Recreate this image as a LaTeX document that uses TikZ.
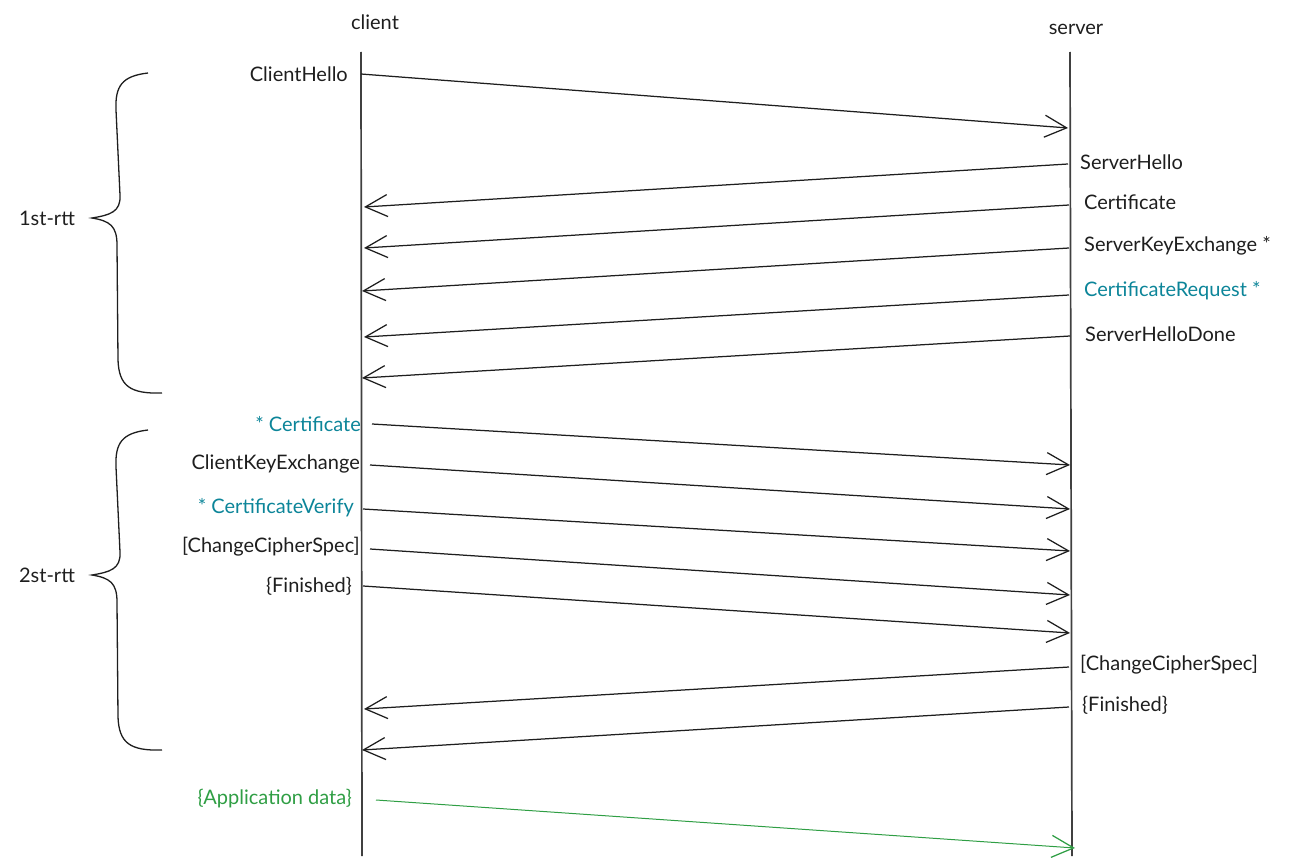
\documentclass[tikz,border=0pt]{standalone}
\usepackage{fontspec}
\setmainfont{Lato}
\usetikzlibrary{arrows.meta}
\definecolor{tealc}{HTML}{0C8599}
\definecolor{greenc}{HTML}{2F9E44}
\definecolor{inkc}{HTML}{1E1E1E}
\tikzset{
  lbl/.style={font=\fontsize{20}{24}\selectfont, text=inkc, inner sep=0pt},
  lblL/.style={lbl, anchor=east},
  lblR/.style={lbl, anchor=west},
  life/.style={draw=inkc!85, line width=1.7pt},
  msg/.style={draw=inkc, line width=1.25pt, -{Straight Barb[length=22pt,width=22pt,line width=1.25pt]}},
  brc/.style={draw=inkc, line width=1.3pt},
}
\begin{document}
\begin{tikzpicture}[x=1pt,y=-1pt]
\useasboundingbox (0,0) rectangle (1312,867);
% lifelines
\coordinate (ct) at (361,52); \coordinate (cb) at (362,856);
\coordinate (st) at (1070,52); \coordinate (sb) at (1072,856);
\draw[life] (ct) -- (cb);
\draw[life] (st) -- (sb);
\node[lbl] (client) at (375,22) {client};
\node[lbl] (server) at (1076,29) {server};

% labels
\node[lblL] (chello) at (348,74) {ClientHello};
\node[lblR] (shello) at (1080,162) {ServerHello};
\node[lblR] (scert) at (1084,202) {Certificate};
\node[lblR] (skx) at (1084,246) {ServerKeyExchange *};
\node[lblR, text=tealc] (creq) at (1084,291) {CertificateRequest *};
\node[lblR] (shd) at (1085,334) {ServerHelloDone};
\node[lblL, text=tealc] (ccert) at (361,424) {* Certificate};
\node[lblL] (ckx) at (360,464) {ClientKeyExchange};
\node[lblL, text=tealc] (cver) at (354,508) {* CertificateVerify};
\node[lblL] (cccs) at (360,547) {[ChangeCipherSpec]};
\node[lblL] (cfin) at (352,586) {\{Finished\}};
\node[lblR] (sccs) at (1080,665) {[ChangeCipherSpec]};
\node[lblR] (sfin) at (1082,705) {\{Finished\}};
\node[lblL, text=greenc] (app) at (352,799) {\{Application data\}};
\node[lbl] (rtt1) at (47,218) {1st-rtt};
\node[lbl] (rtt2) at (47,575) {2st-rtt};

% message endpoints
\coordinate (a1s) at (361,74);   \coordinate (a1e) at (1068,128);
\coordinate (a2s) at (1068,164); \coordinate (a2e) at (364,207);
\coordinate (a3s) at (1069,205); \coordinate (a3e) at (364,248);
\coordinate (a4s) at (1069,248); \coordinate (a4e) at (362,291);
\coordinate (a5s) at (1069,295); \coordinate (a5e) at (364,337);
\coordinate (a6s) at (1070,336); \coordinate (a6e) at (362,378);
\coordinate (b1s) at (372,424);  \coordinate (b1e) at (1070,465);
\coordinate (b2s) at (370,465);  \coordinate (b2e) at (1070,509);
\coordinate (b3s) at (363,509);  \coordinate (b3e) at (1070,551);
\coordinate (b4s) at (370,549);  \coordinate (b4e) at (1070,595);
\coordinate (b5s) at (363,586);  \coordinate (b5e) at (1070,633);
\coordinate (c1s) at (1069,667); \coordinate (c1e) at (364,709);
\coordinate (c2s) at (1069,707); \coordinate (c2e) at (362,750);
\coordinate (d1s) at (376,800);  \coordinate (d1e) at (1075,848);

\draw[msg] (a1s) -- (a1e);
\draw[msg] (a2s) -- (a2e);
\draw[msg] (a3s) -- (a3e);
\draw[msg] (a4s) -- (a4e);
\draw[msg] (a5s) -- (a5e);
\draw[msg] (a6s) -- (a6e);
\draw[msg] (b1s) -- (b1e);
\draw[msg] (b2s) -- (b2e);
\draw[msg] (b3s) -- (b3e);
\draw[msg] (b4s) -- (b4e);
\draw[msg] (b5s) -- (b5e);
\draw[msg] (c1s) -- (c1e);
\draw[msg] (c2s) -- (c2e);
\draw[msg, draw=greenc, line width=1pt] (d1s) -- (d1e);

% braces
\draw[brc] (148,73) .. controls (122,76) and (115,86) .. (116,110)
  -- (120,195) .. controls (121,212) and (110,215) .. (92,218)
  .. controls (110,221) and (117,226) .. (117,245)
  -- (118,360) .. controls (119,386) and (130,394) .. (162,393);
\draw[brc] (148,430) .. controls (122,433) and (115,443) .. (116,467)
  -- (120,552) .. controls (121,569) and (110,572) .. (92,575)
  .. controls (110,578) and (117,583) .. (117,602)
  -- (118,717) .. controls (119,743) and (130,751) .. (162,750);
\end{tikzpicture}
\end{document}
